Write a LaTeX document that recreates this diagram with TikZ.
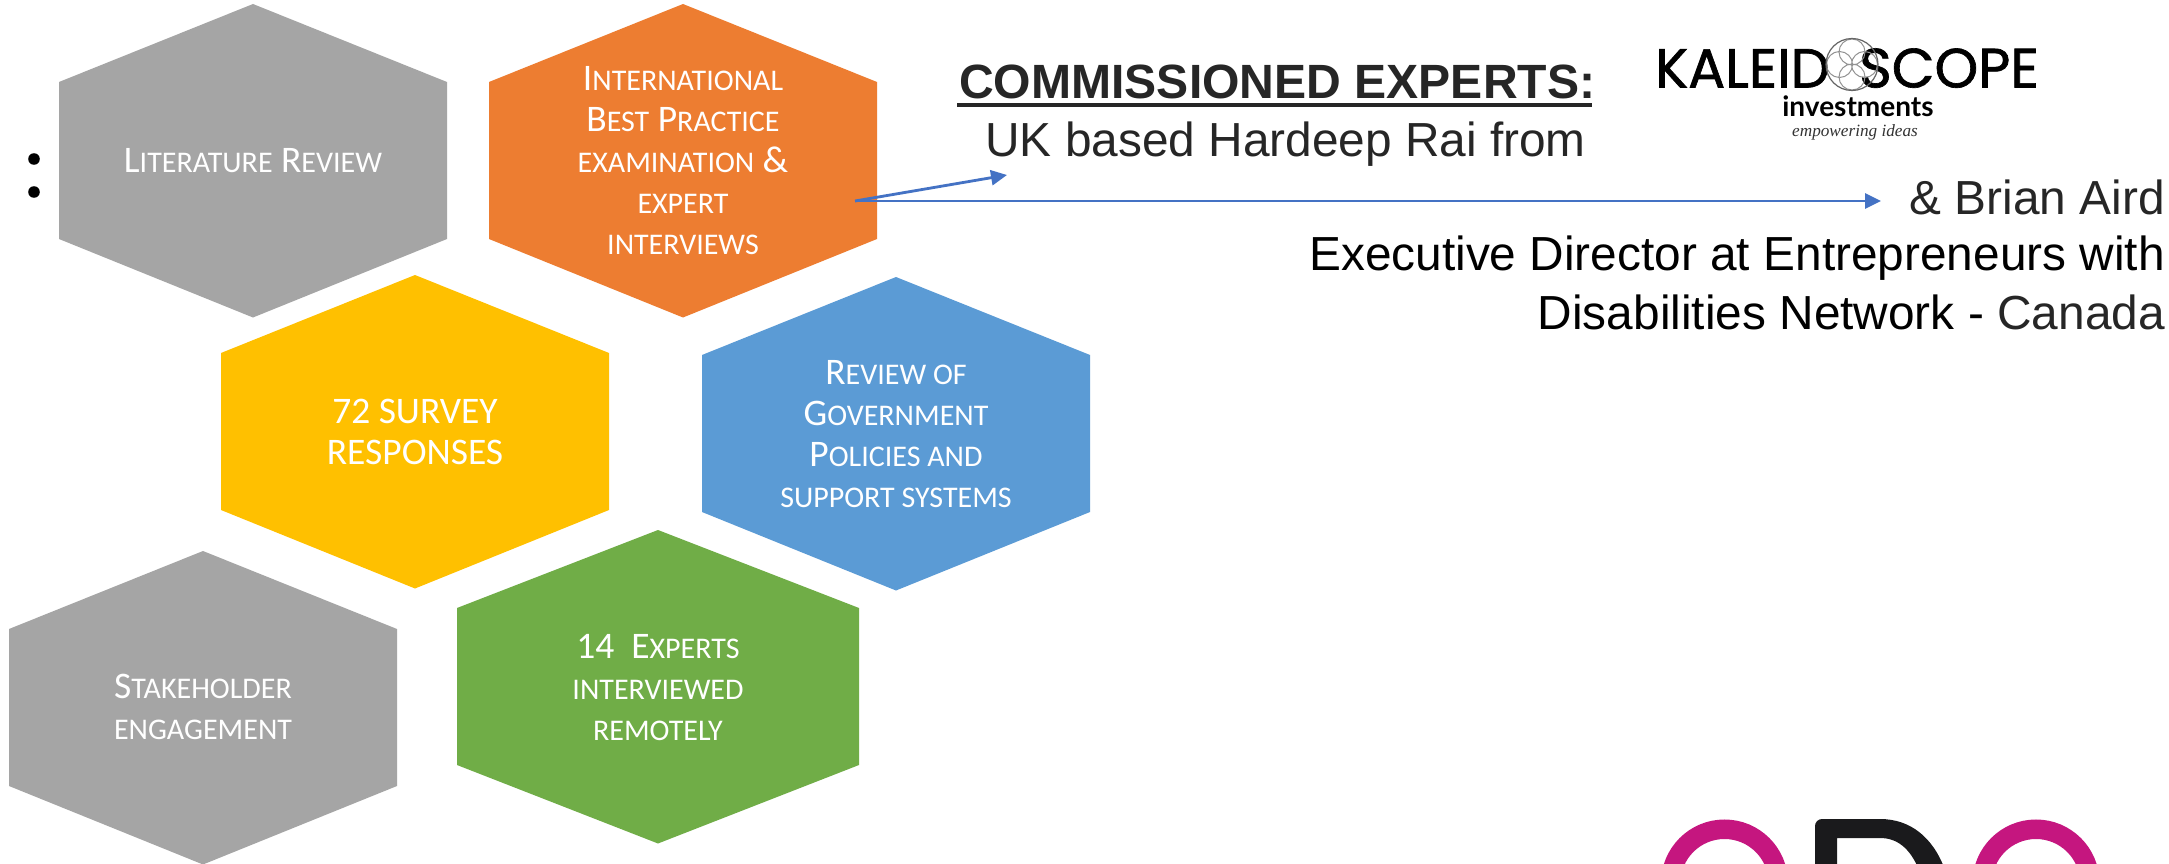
\documentclass[tikz,border=0pt]{standalone}
\usepackage{fontspec}
\setmainfont{Liberation Sans}
\newfontfamily\hexfont{Carlito}
\newfontfamily\logofont[FakeBold=1.2]{Poppins}
\newfontfamily\investfont{Lato}
\newfontfamily\tagfont{Liberation Serif}
\usetikzlibrary{arrows.meta}
\definecolor{hgray}{HTML}{A5A5A5}
\definecolor{horange}{HTML}{ED7D31}
\definecolor{hyellow}{HTML}{FFC000}
\definecolor{hblue}{HTML}{5B9BD5}
\definecolor{hgreen}{HTML}{70AD47}
\definecolor{linkblue}{HTML}{4472C4}
\definecolor{darktxt}{HTML}{262626}
\definecolor{odopink}{HTML}{C5167F}
\definecolor{odoblack}{HTML}{1A1A1C}
\newcommand\sm[1]{{\fontsize{30}{41}\selectfont #1}}
\newcommand\tl{\rule{0pt}{24pt}}
\newcommand\bl{\rule[-8pt]{0pt}{8pt}}
% centre x, top y, half width, colour
\newcommand\hexa[4]{\fill[#4] (#1,#2) -- (#1+#3,#2+78) -- (#1+#3,#2+235) -- (#1,#2+313.5) -- (#1-#3,#2+235) -- (#1-#3,#2+78) -- cycle;}
\tikzset{
  hextext/.style={text=white,align=center,inner sep=0pt,font=\hexfont\fontsize{37.5}{41}\selectfont},
  right text/.style={inner sep=0pt,anchor=base east,font=\fontsize{47.8}{50}\selectfont},
  link/.style={draw=linkblue,line width=2.8pt,-{Triangle[length=16pt,width=15pt]}},
  seed/.style={draw=gray!85,line width=1pt},
}
\begin{document}
\begin{tikzpicture}[x=1pt,y=-1pt]
\useasboundingbox (0,0) rectangle (2169,864);
\clip (0,0) rectangle (2169,864);
\fill[white] (0,0) rectangle (2169,864);
% hexagons
\hexa{253}{4}{194}{hgray}
\hexa{683}{4}{194}{horange}
\hexa{415}{275}{194}{hyellow}
\hexa{896}{277}{194}{hblue}
\hexa{203}{551}{194}{hgray}
\hexa{658}{530}{201}{hgreen}
% bullets
\fill (34,159) circle (5.8);
\fill (34,192) circle (5.8);
% hexagon texts
\node[hextext] (lit) at (253,164.5) {\tl\bl L\sm{ITERATURE} R\sm{EVIEW}};
\node[hextext] (intl) at (683,164) {\tl I\sm{NTERNATIONAL}\\B\sm{EST} P\sm{RACTICE}\\\sm{EXAMINATION} \&\\\sm{EXPERT}\\\sm{INTERVIEWS}\bl};
\node[hextext] (survey) at (415,436) {\tl 72 SURVEY\\RESPONSES\bl};
\node[hextext] (review) at (896,438) {\tl R\sm{EVIEW OF}\\G\sm{OVERNMENT}\\P\sm{OLICIES AND}\\\sm{SUPPORT SYSTEMS}\bl};
\node[hextext] (stake) at (203,711) {\tl S\sm{TAKEHOLDER}\\\sm{ENGAGEMENT}\bl};
\node[hextext] (fourteen) at (658,691) {\tl 14\ \ E\sm{XPERTS}\\\sm{INTERVIEWED}\\\sm{REMOTELY}\bl};
% connectors
\coordinate (src) at (855,201);
\coordinate (tipa) at (1007,175);
\coordinate (tipb) at (1881,201);
\draw[link] (src) -- (tipa);
\draw[link] (src) -- (tipb);
% right-hand text
\node[inner sep=0pt,anchor=base west,text=darktxt,font=\bfseries\fontsize{48.1}{50}\selectfont] (comm) at (959,98.5) {COMMISSIONED EXPERTS:};
\fill[darktxt] (957,103) rectangle (1592,107.5);
\node[right text,text=darktxt] (uk) at (1586,156.5) {UK based Hardeep Rai from};
\node[right text,text=darktxt] (brian) at (2165,214.5) {\& Brian Aird};
\node[right text] (exec) at (2165,270.5) {Executive Director at Entrepreneurs with};
\node[right text] (dis) at (2165,329) {Disabilities Network - \textcolor{darktxt}{Canada}};
% Kaleidoscope logo
\node[inner sep=0pt,anchor=base west,font=\logofont\fontsize{55}{55}\selectfont] (kal) at (1655,87.5) {KALEID};
\node[inner sep=0pt,anchor=base east,font=\logofont\fontsize{55.5}{55}\selectfont] (scope) at (2039,87.5) {SCOPE};
\draw[seed] (1852,52) circle (13) (1852,77) circle (13) (1839.5,64.5) circle (13) (1864.5,64.5) circle (13);
\draw[black!60,line width=1.2pt] (1852,64.5) circle (26);
\node[inner sep=0pt,anchor=base,font=\investfont\bfseries\fontsize{28}{30}\selectfont] (inv) at (1858,117) {investments};
\node[inner sep=0pt,anchor=base,text=black!80,font=\tagfont\itshape\fontsize{17.2}{20}\selectfont] (tag) at (1855,136.5) {empowering ideas};
% ODO logo
\draw[odopink,line width=19.5pt] (1724.5,883) circle (53.75);
\draw[odopink,line width=19.5pt] (2036,883) circle (53.75);
\fill[odoblack,even odd rule] (1815,870) -- (1815,826) arc[start angle=180,end angle=90,x radius=7,y radius=-7] -- (1880,819) .. controls (1910,819) and (1933,837) .. (1945,870) -- cycle
  (1837,870) -- (1837,838) -- (1880,838) .. controls (1897,838) and (1910,848) .. (1919,870) -- cycle;
\end{tikzpicture}
\end{document}
